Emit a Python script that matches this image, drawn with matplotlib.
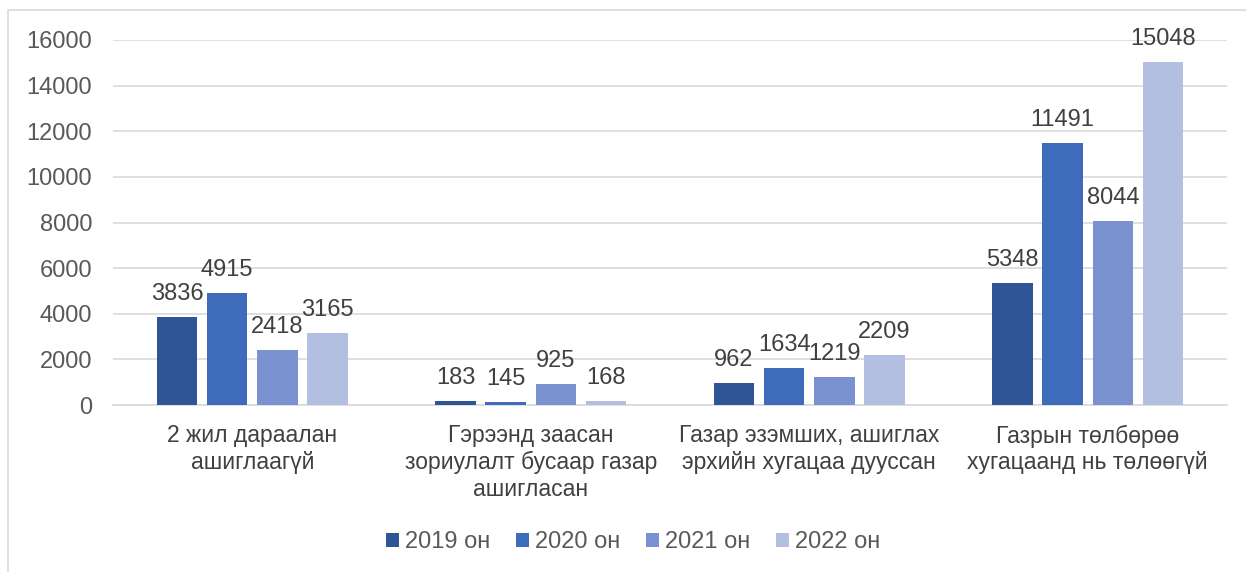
import matplotlib
matplotlib.use("Agg")
import matplotlib.pyplot as plt
import numpy as np
from matplotlib.patches import Rectangle

plt.rcParams['font.family'] = ['Liberation Sans', 'DejaVu Sans']

categories = ["2 жил дараалан\nашиглаагүй",
              "Гэрээнд заасан\nзориулалт бусаар газар\nашигласан",
              "Газар эзэмших, ашиглах\nэрхийн хугацаа дууссан",
              "Газрын төлбөрөө\nхугацаанд нь төлөөгүй"]
series_names = ["2019 он", "2020 он", "2021 он", "2022 он"]
v2019 = [3836, 183, 962, 5348]
v2020 = [4915, 145, 1634, 11491]
v2021 = [2418, 925, 1219, 8044]
v2022 = [3165, 168, 2209, 15048]
values = [v2019, v2020, v2021, v2022]
colors = ["#2F5597", "#3E6BBA", "#7A93D0", "#B3BFE0"]
yticks = [0, 2000, 4000, 6000, 8000, 10000, 12000, 14000, 16000]

W, H = 1246, 572
fig = plt.figure(figsize=(W/100, H/100), dpi=100)
# outer border
fig.patches.append(Rectangle((8/W, -0.1), 1.2, 1 - 10/H + 0.1, transform=fig.transFigure,
                             fill=False, edgecolor="#D9D9D9", linewidth=1.2))
ax = fig.add_axes([113/W, 1 - 405/H, (1227 - 113)/W, 365/H])

x = np.arange(len(categories))
step = 0.18
bw = 0.145
for i, (vals, c, name) in enumerate(zip(values, colors, series_names)):
    pos = x + (i - 1.5) * step
    ax.bar(pos, vals, width=bw, color=c, label=name, zorder=3)
    for p, v in zip(pos, vals):
        ax.annotate(str(v), (p, v), xytext=(0, 12), textcoords='offset pixels',
                    ha='center', va='bottom', fontsize=17, color="#404040", zorder=4,
                    annotation_clip=False)

ax.set_ylim(0, 16000)
ax.set_xlim(-0.5, 3.5)
ax.set_yticks(yticks)
ax.set_yticklabels([str(t) for t in yticks], fontsize=17, color="#595959")
ax.tick_params(axis='y', length=0, pad=15)
ax.tick_params(axis='x', length=0, pad=14)
ax.set_xticks(x)
ax.set_xticklabels(categories, fontsize=16.5, color="#404040", linespacing=1.2)
ax.grid(axis='y', color="#D9D9D9", linewidth=1.2, zorder=0)
for s in ['top', 'right', 'left']:
    ax.spines[s].set_visible(False)
ax.spines['bottom'].set_color("#D9D9D9")
ax.spines['bottom'].set_linewidth(1.2)

leg = fig.legend(loc='center', bbox_to_anchor=(633/W, 1 - 542/H), ncol=4, frameon=False,
                 fontsize=17, handlelength=0.55, handleheight=0.55, handletextpad=0.25,
                 columnspacing=1.1)
for t in leg.get_texts():
    t.set_color("#595959")

fig.savefig("out.png", dpi=100)
